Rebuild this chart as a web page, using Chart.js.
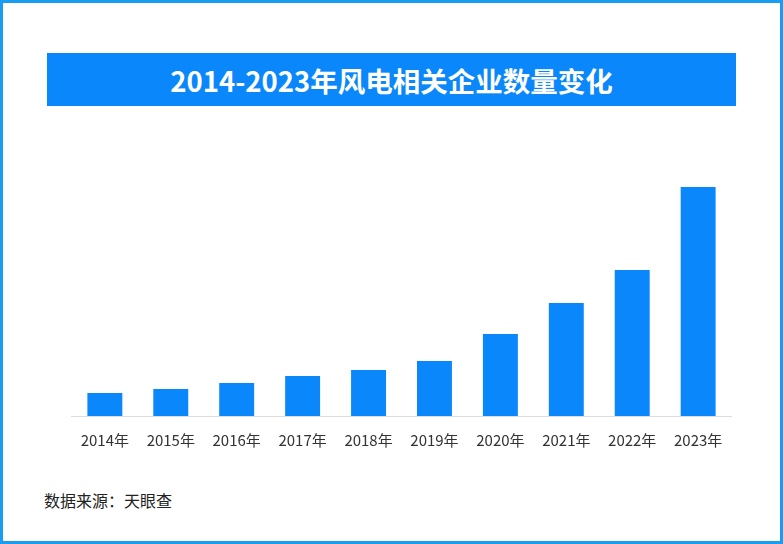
<!DOCTYPE html>
<html><head><meta charset="utf-8">
<script src="https://cdn.jsdelivr.net/npm/chart.js@4/dist/chart.umd.min.js"></script>
<style>
html,body{margin:0;padding:0;background:#fff;}
#frame{position:absolute;left:0;top:0;width:777px;height:538px;border:3px solid #1a9cf0;}
#title{position:absolute;left:47px;top:53px;width:689px;height:53px;background:#0a87fb;color:#fff;font:bold 27.5px "Noto Sans CJK SC";display:flex;align-items:center;justify-content:center;}
#src{position:absolute;left:44px;top:488px;font:16px "Noto Sans CJK SC";color:#222;}
#wrap{position:absolute;left:66px;top:150px;width:671px;height:314px;}
</style></head><body>
<div id="frame"></div>
<div id="title">2014-2023年风电相关企业数量变化</div>
<div id="wrap"><canvas id="c"></canvas></div>
<div id="src">数据来源：天眼查</div>
<script>
const categories=["2014年","2015年","2016年","2017年","2018年","2019年","2020年","2021年","2022年","2023年"];
const values=[23,27,33,40,46,55,82,113,146,229];
new Chart(document.getElementById('c'),{type:'bar',
data:{labels:categories,datasets:[{data:values,backgroundColor:'#0a87fb',barPercentage:0.53,categoryPercentage:1}]},
options:{responsive:true,maintainAspectRatio:false,animation:false,
plugins:{legend:{display:false},tooltip:{enabled:false}},
layout:{padding:0},
scales:{y:{display:false,min:0,max:266},
x:{grid:{display:false,drawTicks:false},border:{color:'#ddd'},ticks:{color:'#333',padding:15,font:{size:15,family:'"Noto Sans CJK SC"'}}}}}});
</script></body></html>
